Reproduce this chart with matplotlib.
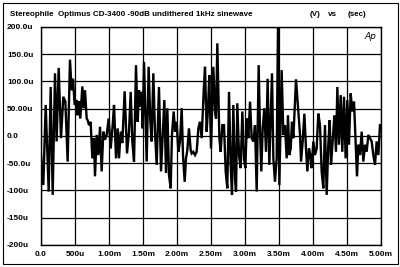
import matplotlib
matplotlib.use("Agg")
import matplotlib.pyplot as plt
from matplotlib.patches import Rectangle

# waveform: time in ms, level in microvolts
t_ms = [0.000, 0.034, 0.069, 0.113, 0.142, 0.172, 0.206, 0.230, 0.260, 0.294,
        0.328, 0.358, 0.392, 0.426, 0.451, 0.471, 0.495, 0.525, 0.539, 0.559,
        0.578, 0.608, 0.627, 0.647, 0.672, 0.686, 0.706, 0.730, 0.755, 0.779,
        0.794, 0.819, 0.843, 0.868, 0.892, 0.917, 0.941, 0.966, 0.995, 1.025,
        1.054, 1.074, 1.103, 1.127, 1.147, 1.172, 1.196, 1.230, 1.265, 1.294,
        1.319, 1.343, 1.368, 1.397, 1.422, 1.441, 1.456, 1.480, 1.495, 1.515,
        1.534, 1.554, 1.583, 1.608, 1.627, 1.652, 1.676, 1.701, 1.735, 1.765,
        1.814, 1.838, 1.858, 1.882, 1.907, 1.926, 1.951, 1.971, 1.995, 2.020,
        2.044, 2.069, 2.088, 2.113, 2.132, 2.152, 2.176, 2.201, 2.216, 2.240,
        2.265, 2.289, 2.314, 2.338, 2.363, 2.392, 2.412, 2.436, 2.456, 2.475,
        2.500, 2.534, 2.559, 2.574, 2.593, 2.623, 2.642, 2.667, 2.691, 2.716,
        2.740, 2.765, 2.789, 2.809, 2.828, 2.853, 2.868, 2.887, 2.912, 2.936,
        2.961, 2.985, 3.005, 3.029, 3.049, 3.074, 3.098, 3.123, 3.147, 3.172,
        3.201, 3.221, 3.240, 3.260, 3.284, 3.309, 3.333, 3.358, 3.397, 3.417,
        3.441, 3.466, 3.485, 3.505, 3.539, 3.564, 3.588, 3.613, 3.632, 3.652,
        3.672, 3.691, 3.711, 3.750, 3.809, 3.824, 3.848, 3.873, 3.897, 3.917,
        3.941, 3.961, 3.980, 4.005, 4.029, 4.054, 4.078, 4.103, 4.127, 4.152,
        4.176, 4.201, 4.225, 4.245, 4.265, 4.289, 4.314, 4.338, 4.358, 4.382,
        4.407, 4.431, 4.456, 4.480, 4.505, 4.529, 4.554, 4.578, 4.603, 4.627,
        4.647, 4.667, 4.691, 4.716, 4.740, 4.765, 4.789, 4.814, 4.838, 4.863,
        4.887, 4.912, 4.936, 4.961, 4.985, 5.000]
v_uv = [-35, -90, 57, -102, 90, -108, 115, -10, 125, -4,
        72, 63, -47, 140, 84, 105, 57, 66, 38, 64,
        32, 91, 51, 84, 32, 29, 20, 26, -41, -4,
        -74, 2, -35, 17, -65, 8, -7, 2, 32, -23,
        20, 57, -41, 14, -41, 8, -13, 82, -32, 8,
        81, -10, -47, 130, 26, 84, 54, 81, 14, 136,
        45, -47, 127, 26, -10, 115, 8, -53, 90, -65,
        66, -68, 51, -71, -96, 2, 45, 8, 26, -29,
        -10, 51, -35, -84, -41, -26, 14, -26, -32, -29,
        -35, -29, 14, 26, -4, 81, 127, 8, 51, 112,
        -23, 127, 45, 32, 170, -4, -29, 20, 20, -65,
        -96, 81, -53, -108, 57, -77, -102, 60, -35, -59,
        45, -41, -59, 32, -4, 63, -4, -10, 20, -102,
        130, 8, -65, 14, 51, -29, 105, -53, 115, -41,
        -84, -41, 200, -90, 121, 2, 20, -41, 38, -35,
        -23, 26, -4, 104, 2, -47, -10, 41, -23, -65,
        -23, -35, -59, -10, -35, -23, 41, 20, -65, -96,
        20, -108, -16, 29, -53, -10, 38, -29, 90, -16,
        75, -29, 72, -41, 66, -16, 78, 45, 63, -10,
        -74, -16, -35, 8, -47, -16, -29, 2, -4, -10,
        -35, -53, -10, -35, 20, 20]

x_ticks = [0.0, 0.5, 1.0, 1.5, 2.0, 2.5, 3.0, 3.5, 4.0, 4.5, 5.0]
x_labels = ["0.0", "500u", "1.00m", "1.50m", "2.00m", "2.50m", "3.00m",
            "3.50m", "4.00m", "4.50m", "5.00m"]
y_ticks = [200, 150, 100, 50, 0, -50, -100, -150, -200]
y_labels = ["200.0u", "150.0u", "100.0u", "50.00u", "0.0", "-50.0u",
            "-100u", "-150u", "-200u"]

plt.rcParams['font.family'] = ['Liberation Sans', 'DejaVu Sans']

fig = plt.figure(figsize=(4, 2.67), dpi=100)
ax = fig.add_axes([0.1025, 0.0824, 0.85, 0.8165])

ax.plot(t_ms, v_uv, color='black', linewidth=1.7, solid_joinstyle='miter')

ax.set_xlim(0, 5)
ax.set_ylim(-200, 200)
ax.set_xticks(x_ticks)
ax.set_xticklabels(x_labels, fontsize=6, fontweight='bold')
ax.set_yticks(y_ticks)
ax.set_yticklabels(y_labels, fontsize=6, fontweight='bold')
for lab in ax.get_yticklabels():
    lab.set_horizontalalignment('left')
ax.tick_params(axis='y', length=0, pad=24.5)
ax.tick_params(axis='x', length=0, pad=4)
ax.grid(True, color='black', linewidth=0.9)
for s in ax.spines.values():
    s.set_linewidth(1.0)

ax.text(0.985, 0.975, "Ap", transform=ax.transAxes, ha='right', va='top',
        fontsize=6.5, style='italic', family='DejaVu Sans')

# header line
fig.text(0.025, 0.945, "Stereophile  Optimus CD-3400 -90dB undithered 1kHz sinewave",
         fontsize=5.8, fontweight='bold', va='center')
fig.text(0.775, 0.945, "(V)", fontsize=5.8, fontweight='bold', va='center')
fig.text(0.82, 0.945, "vs", fontsize=5.8, fontweight='bold', va='center')
fig.text(0.87, 0.945, "(sec)", fontsize=5.8, fontweight='bold', va='center')

fig.patches.append(Rectangle((0.007, 0.011), 0.988, 0.978, transform=fig.transFigure,
                             fill=False, edgecolor='black', linewidth=0.8))

fig.savefig("out.png", dpi=100)
